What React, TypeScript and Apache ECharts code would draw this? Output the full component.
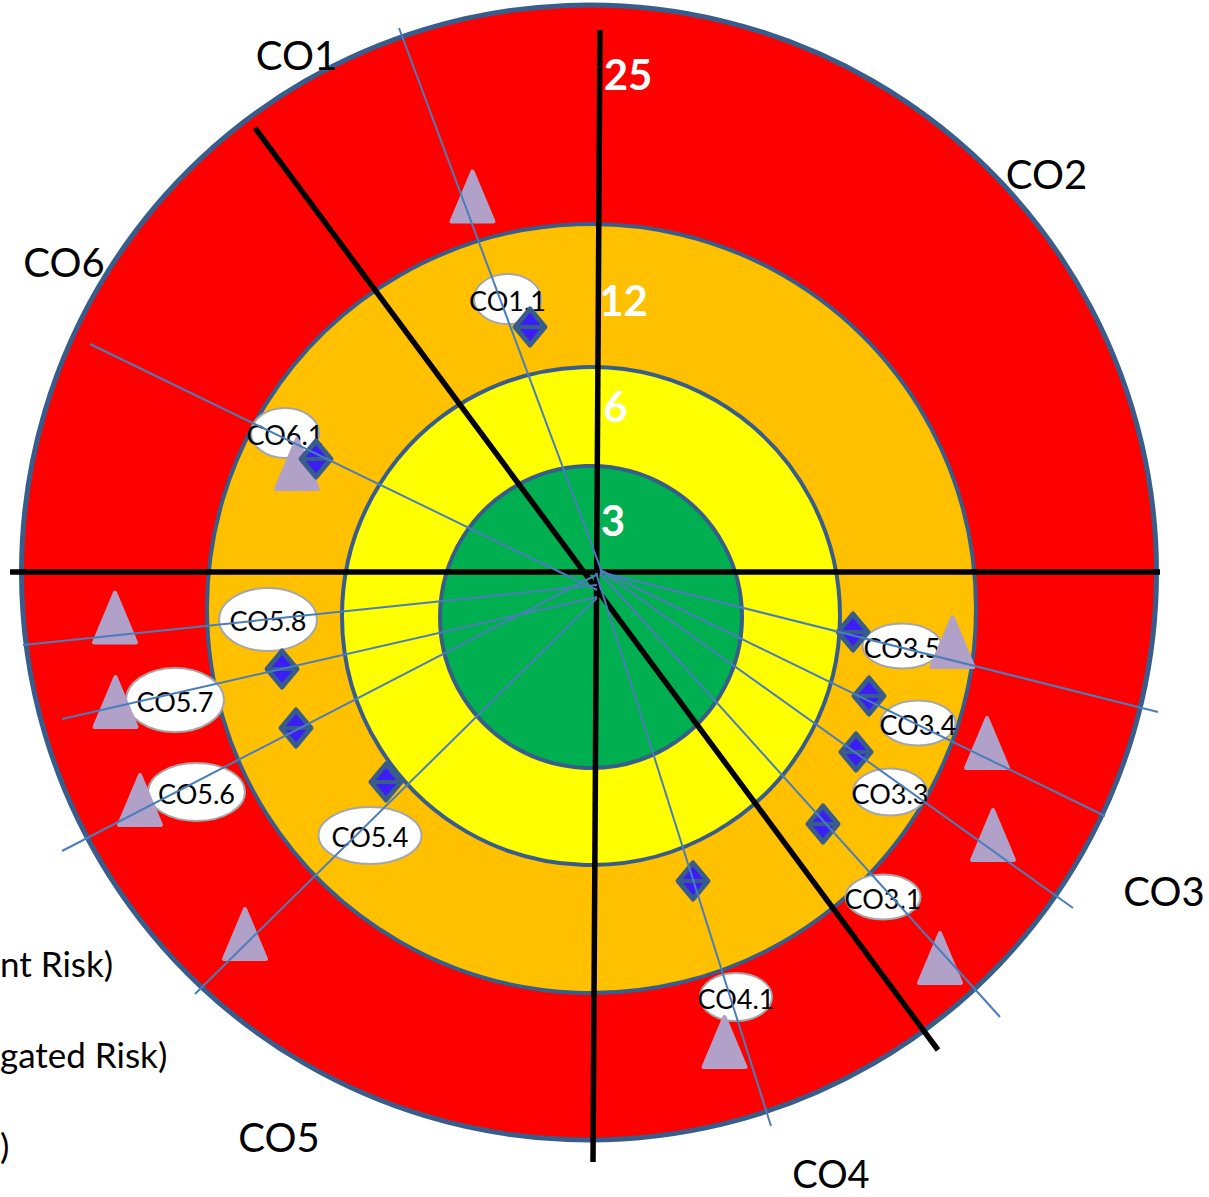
import React, { useEffect, useRef } from "react";
import * as echarts from "echarts";

// Data space: origin at the hub of the rays, y upward (units)
const ringScores = ["25", "12", "6", "3"];
const ringCenters = [[-8, 3.5], [-5.5, -32.5], [-6, -40], [-6, -41]];
const ringRadii = [567.5, 384.5, 249, 151];
const scoreLabelPos = [[31, 502.5], [26.5, 276.5], [18.5, 170.5], [16, 56]];

const axisLines = [
  [-587, 4, 563, 4],
  [3, 546, -4, -586],
  [-342, 448, 341, -474],
];

const objectives = ["CO1", "CO2", "CO3", "CO4", "CO5", "CO6"];
const objectivePos = [[-300.5, 521], [449.5, 402.5], [567, -315], [234, -597], [-318, -561], [-533, 314.5]];

const controls = ["CO1.1", "CO6.1", "CO5.8", "CO5.7", "CO5.6", "CO5.4", "CO3.5", "CO3.4", "CO3.3", "CO3.1", "CO4.1"];
const inherentRisk = [[-124.5, 379.5], [-300, 112], [-482, -41.5], [-481.5, -126], [-457, -224], [-352, -358], [355.5, -66], [390, -167], [396, -259], [343, -382], [127.5, -466]];
const mitigatedRisk = [[-67, 249], [-281, 117], null, [-315, -93], [-301, -152], [-211, -206], [256, -56], [272, -120], [259, -176], [226, -248], [96, -305]];
const controlLabelPos = [[-89.5, 277], [-312, 143], [-329, -43.5], [-422, -124], [-400.5, -216], [-227, -259.5], [305, -70], [321, -147], [293, -216], [286, -321], [139, -421]];
const rayStart = [[6, 1], [0, -14], [0, -9], [0, -21], [1, 2], [0, -22], [3, 4], [3, 6], [3, 6], [3, 3], [-1, 3]];
const rayEnd = [[-198, 548], [-507, 232], [-574, -69], [-535, -143], [-535, -275], [-402, -418], [561, -136], [508, -240], [476, -332], [403, -441], [174, -550]];

const legendFragments = ["nt Risk)", "gated Risk)", ")"];
const legendFragmentY = [-387, -478, -569];

// styles
const ringColors = ["#FF0000", "#FFC000", "#FFFF00", "#00B050"];
const bubbleSize = [[69, 52], [70, 52], [100, 65], [100, 66], [99, 60], [105, 59], [81, 47], [77, 47], [76, 49], [77, 47], [74, 50]];
const OUTLINE = "#385D8A";
const FONT = "Lato, 'Noto Sans', sans-serif";

export default function App() {
  const ref = useRef<HTMLDivElement>(null);
  useEffect(() => {
    if (!ref.current) return;
    const chart = echarts.init(ref.current, undefined, { renderer: "svg" });

    const mitigatedData: any[] = [];
    mitigatedRisk.forEach((m, i) => {
      if (m) mitigatedData.push([m[0], m[1], i]);
    });

    const option: any = {
      animation: false,
      grid: { left: 0, right: 0, top: 0, bottom: 0 },
      xAxis: { type: "value", min: -597, max: 612, show: false },
      yAxis: { type: "value", min: -621, max: 576, show: false },
      series: [
        {
          type: "custom",
          z: 1,
          silent: true,
          data: ringRadii.map((r, i) => [ringCenters[i][0], ringCenters[i][1], r, i]),
          renderItem: (p: any, api: any) => {
            const c = api.coord([api.value(0), api.value(1)]);
            const r = api.size([api.value(2), 0])[0];
            const i = api.value(3);
            return {
              type: "circle",
              shape: { cx: c[0], cy: c[1], r },
              style: { fill: ringColors[i], stroke: OUTLINE, lineWidth: i === 0 ? 5 : 4 },
            };
          },
        },
        {
          type: "custom",
          z: 2,
          silent: true,
          data: axisLines,
          renderItem: (p: any, api: any) => {
            const a = api.coord([api.value(0), api.value(1)]);
            const b = api.coord([api.value(2), api.value(3)]);
            return {
              type: "line",
              shape: { x1: a[0], y1: a[1], x2: b[0], y2: b[1] },
              style: { stroke: "#000", lineWidth: 5.5 },
            };
          },
        },
        {
          type: "custom",
          z: 3,
          silent: true,
          data: scoreLabelPos.map((p, i) => [p[0], p[1], i]),
          renderItem: (p: any, api: any) => {
            const c = api.coord([api.value(0), api.value(1)]);
            return {
              type: "text",
              style: {
                text: ringScores[api.value(2)],
                x: c[0],
                y: c[1],
                fill: "#FFFFFF",
                fontFamily: FONT,
                fontWeight: "bold",
                fontSize: 42,
                align: "center",
                verticalAlign: "middle",
              },
            };
          },
        },
        {
          type: "custom",
          z: 4,
          silent: true,
          data: controlLabelPos.map((p, i) => [p[0], p[1], i]),
          renderItem: (p: any, api: any) => {
            const c = api.coord([api.value(0), api.value(1)]);
            const i = api.value(2);
            const [w, h] = bubbleSize[i];
            return {
              type: "group",
              children: [
                {
                  type: "ellipse",
                  shape: { cx: c[0], cy: c[1], rx: w / 2 - 1, ry: h / 2 - 1 },
                  style: { fill: "#FFFFFF", stroke: "#A6A6A6", lineWidth: 2 },
                },
                {
                  type: "text",
                  style: {
                    text: controls[i],
                    x: c[0],
                    y: c[1] + 1,
                    fill: "#000",
                    fontFamily: FONT,
                    fontSize: 27,
                    align: "center",
                    verticalAlign: "middle",
                  },
                },
              ],
            };
          },
        },
        {
          type: "custom",
          z: 5,
          silent: true,
          data: inherentRisk.map((p, i) => [p[0], p[1], i]),
          renderItem: (p: any, api: any) => {
            const c = api.coord([api.value(0), api.value(1)]);
            return {
              type: "polygon",
              shape: {
                points: [
                  [c[0], c[1] - 25],
                  [c[0] + 21, c[1] + 25],
                  [c[0] - 21, c[1] + 25],
                ],
              },
              style: { fill: "#B1A0C7", stroke: "#B1A0C7", lineWidth: 4, lineJoin: "round" },
            };
          },
        },
        {
          type: "custom",
          z: 6,
          silent: true,
          data: mitigatedData,
          renderItem: (p: any, api: any) => {
            const c = api.coord([api.value(0), api.value(1)]);
            const hw = 15;
            const hh = 18;
            return {
              type: "group",
              children: [
                {
                  type: "polygon",
                  shape: {
                    points: [
                      [c[0], c[1] - hh],
                      [c[0] + hw, c[1]],
                      [c[0], c[1] + hh],
                      [c[0] - hw, c[1]],
                    ],
                  },
                  style: { fill: "#3A1EF5", stroke: OUTLINE, lineWidth: 5, lineJoin: "round" },
                },
                {
                  type: "line",
                  shape: { x1: c[0] - hw + 3, y1: c[1], x2: c[0] + hw - 3, y2: c[1] },
                  style: { stroke: OUTLINE, lineWidth: 4 },
                },
              ],
            };
          },
        },
        {
          type: "custom",
          z: 7,
          silent: true,
          data: rayStart.map((s, i) => [s[0], s[1], rayEnd[i][0], rayEnd[i][1]]),
          renderItem: (p: any, api: any) => {
            const a = api.coord([api.value(0), api.value(1)]);
            const b = api.coord([api.value(2), api.value(3)]);
            return {
              type: "line",
              shape: { x1: a[0], y1: a[1], x2: b[0], y2: b[1] },
              style: { stroke: "#4A7EBB", lineWidth: 2 },
            };
          },
        },
        {
          type: "custom",
          z: 8,
          silent: true,
          data: objectivePos.map((p, i) => [p[0], p[1], i]),
          renderItem: (p: any, api: any) => {
            const c = api.coord([api.value(0), api.value(1)]);
            return {
              type: "text",
              style: {
                text: objectives[api.value(2)],
                x: c[0],
                y: c[1],
                fill: "#000",
                fontFamily: FONT,
                fontSize: api.value(2) === 3 ? 38 : 40,
                align: "center",
                verticalAlign: "middle",
              },
            };
          },
        },
        {
          type: "custom",
          z: 8,
          silent: true,
          data: legendFragmentY.map((y, i) => [-597, y, i]),
          renderItem: (p: any, api: any) => {
            const c = api.coord([api.value(0), api.value(1)]);
            return {
              type: "text",
              style: {
                text: legendFragments[api.value(2)],
                x: c[0],
                y: c[1],
                fill: "#000",
                fontFamily: FONT,
                fontSize: 35,
                align: "left",
                verticalAlign: "middle",
              },
            };
          },
        },
      ],
    };
    chart.setOption(option);
    return () => chart.dispose();
  }, []);

  return (
    <div
      ref={ref}
      style={{ position: "absolute", left: 0, top: 0, width: 1209, height: 1197, background: "#fff" }}
    />
  );
}
